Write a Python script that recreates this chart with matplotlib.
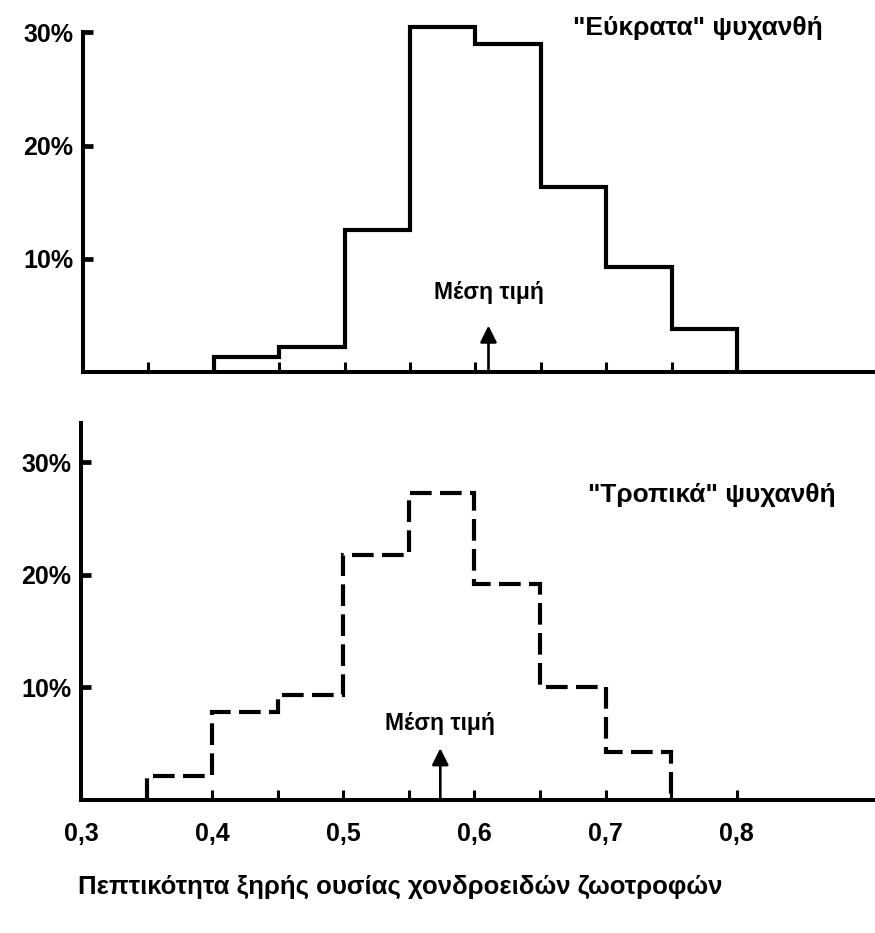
import matplotlib
matplotlib.use("Agg")
import matplotlib.pyplot as plt
from matplotlib.ticker import FixedLocator, FixedFormatter
from matplotlib import font_manager

# ---- data ----
bin_edges_top = [0.40, 0.45, 0.50, 0.55, 0.60, 0.65, 0.70, 0.75, 0.80]
pct_top = [1.3, 2.2, 12.5, 30.5, 29.0, 16.3, 9.3, 3.8]
mean_top = 0.61

bin_edges_bot = [0.35, 0.40, 0.45, 0.50, 0.55, 0.60, 0.65, 0.70, 0.75]
pct_bot = [2.1, 7.8, 9.3, 21.8, 27.3, 19.2, 10.0, 4.3]
mean_bot = 0.574

y_ticks = [10, 20, 30]
y_tick_labels = ["10%", "20%", "30%"]
x_major = [0.3, 0.4, 0.5, 0.6, 0.7, 0.8]
x_major_labels = ["0,3", "0,4", "0,5", "0,6", "0,7", "0,8"]
x_minor = [0.35, 0.45, 0.55, 0.65, 0.75]

title_top = '"Εύκρατα" ψυχανθή'
title_bot = '"Τροπικά" ψυχανθή'
mean_label = "Μέση τιμή"
x_label = "Πεπτικότητα ξηρής ουσίας χονδροειδών ζωοτροφών"

avail = {f.name for f in font_manager.fontManager.ttflist}
fam = [f for f in ["Liberation Sans Narrow", "Liberation Sans", "DejaVu Sans"] if f in avail]
plt.rcParams["font.family"] = fam
plt.rcParams["font.weight"] = "bold"

W, H = 875, 933
fig = plt.figure(figsize=(W / 100, H / 100), dpi=100)

def fx(px):
    return px / W

def fy(py):
    return 1 - py / H

# top panel: 0% at y=372 px, 30% at y=32 px -> 11.33 px per %
ax1 = fig.add_axes([fx(83), fy(372), 1 - fx(83), fy(21) - fy(372)])
ax2 = fig.add_axes([fx(81), fy(800), 1 - fx(81), fy(423) - fy(800)])

xmax = 0.3 + (875 - 83) / 1308

for ax in (ax1, ax2):
    ax.set_xlim(0.3, xmax)
    for s in ("top", "right"):
        ax.spines[s].set_visible(False)
    for s in ("left", "bottom"):
        ax.spines[s].set_linewidth(2.9)
    ax.yaxis.set_major_locator(FixedLocator(y_ticks))
    ax.yaxis.set_major_formatter(FixedFormatter(y_tick_labels))
    ax.tick_params(axis="y", direction="in", length=7, width=3.4, pad=7,
                   labelsize=18)
    ax.xaxis.set_major_locator(FixedLocator(x_major))
    ax.xaxis.set_minor_locator(FixedLocator(x_minor))
    ax.tick_params(axis="x", which="both", direction="in", length=7, width=2.2)
    for lab in ax.get_yticklabels():
        lab.set_fontweight("bold")

ax1.set_ylim(0, 31.0)
ax1.spines["left"].set_bounds(0, 30)
ax2.set_ylim(0, 33.5)

ax1.tick_params(axis="x", which="both", labelbottom=False)
ax2.xaxis.set_major_formatter(FixedFormatter(x_major_labels))
ax2.tick_params(axis="x", which="major", pad=16, labelsize=18)
for lab in ax2.get_xticklabels():
    lab.set_fontweight("bold")

ax1.stairs(pct_top, bin_edges_top, baseline=0, fill=False, color="black",
           linewidth=3.0)
ax2.stairs(pct_bot, bin_edges_bot, baseline=0, fill=False, color="black",
           linewidth=3.0, linestyle=(0, (5.2, 2.0)))

arrow_kw = dict(arrowstyle="-|>", color="black", lw=1.9, mutation_scale=25,
                shrinkA=0, shrinkB=0)
ax1.annotate("", xy=(mean_top, 4.1), xytext=(mean_top, 0.2), arrowprops=arrow_kw)
ax2.annotate("", xy=(mean_bot, 4.6), xytext=(mean_bot, 0.2), arrowprops=arrow_kw)
ax1.text(mean_top, 7.0, mean_label, ha="center", va="center", fontsize=16.5,
         fontweight="bold")
ax2.text(mean_bot, 6.8, mean_label, ha="center", va="center", fontsize=16.5,
         fontweight="bold")

fig.text(fx(698), fy(28), title_top, ha="center", va="center", fontsize=19,
         fontweight="bold")
fig.text(fx(712), fy(495), title_bot, ha="center", va="center", fontsize=19,
         fontweight="bold")
fig.text(fx(400), fy(887), x_label, ha="center", va="center", fontsize=18.5,
         fontweight="bold")

fig.savefig("out.png", dpi=100)
